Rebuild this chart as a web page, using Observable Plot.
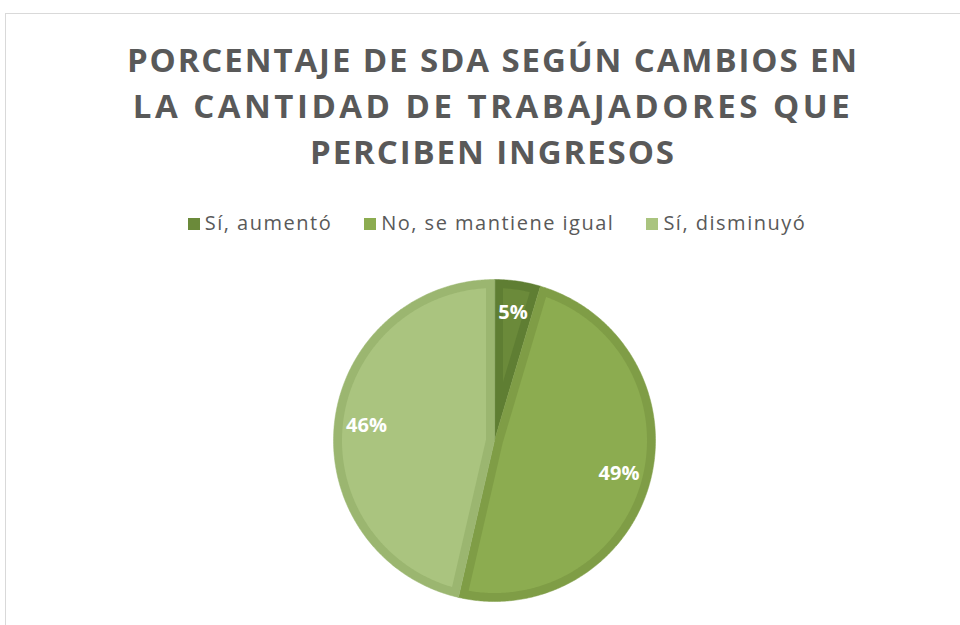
<!DOCTYPE html>
<html><head><meta charset="utf-8">
<script src="https://cdn.jsdelivr.net/npm/d3@7"></script>
<script src="https://cdn.jsdelivr.net/npm/@observablehq/plot@0.6"></script>
<style>
html,body{margin:0;padding:0;background:#fff;overflow:hidden;}
#page{position:relative;width:960px;height:625px;font-family:"Open Sans",sans-serif;color:#595959;}
#frame{position:absolute;left:5px;top:13px;width:1000px;height:700px;border:1px solid #d9d9d9;box-sizing:border-box;}
#title{position:absolute;left:0;top:37px;width:986px;text-align:center;font-size:33px;font-weight:700;letter-spacing:1.9px;line-height:46px;}
#title .l2{letter-spacing:3.5px;}
#legend{position:absolute;left:0;top:209px;width:994px;text-align:center;font-size:20px;letter-spacing:1.5px;white-space:nowrap;}
#legend span.item{display:inline-block;margin:0 16px;}
#legend span.sw{display:inline-block;width:12px;height:12px;margin-right:5px;vertical-align:0px;}
#chart{position:absolute;left:324px;top:270px;}
</style></head>
<body><div id="page"><div id="frame"></div>
<div id="title">PORCENTAJE DE SDA SEGÚN CAMBIOS EN<br><span class="l2">LA CANTIDAD DE TRABAJADORES QUE</span><br>PERCIBEN INGRESOS</div>
<div id="legend"></div>
<div id="chart"></div></div>
<script>
const categories = ["Sí, aumentó", "No, se mantiene igual", "Sí, disminuyó"];
const values = [4.6, 49.0, 46.4];
const labels = ["5%", "49%", "46%"];
const fillColors = ["#6b8a3a", "#8cac50", "#aac47f"];
const borderColors = ["#5f7e33", "#7f9d46", "#9bb670"];

const legend = document.getElementById("legend");
categories.forEach((c, i) => {
  const s = document.createElement("span"); s.className = "item";
  s.innerHTML = `<span class="sw" style="background:${fillColors[i]}"></span>${c}`;
  legend.appendChild(s);
});

const total = d3.sum(values);
const w = 8.5 / 161; // border width in radius units
const toXY = (a, r) => [r * Math.sin(a), r * Math.cos(a)];
let acc = 0;
const slices = values.map((v, i) => {
  const a0 = acc / total * 2 * Math.PI; acc += v;
  const a1 = acc / total * 2 * Math.PI;
  return {i, a0, a1, mid: (a0 + a1) / 2};
});
function arcPts(a0, a1, r) {
  const n = Math.max(4, Math.ceil((a1 - a0) / 0.01));
  return d3.range(n + 1).map(k => toXY(a0 + (a1 - a0) * k / n, r));
}
const outer = slices.map(s => [[0, 0], ...arcPts(s.a0, s.a1, 1)].map(([x, y]) => ({x, y})));
const inner = slices.map(s => {
  const th = s.a1 - s.a0;
  const R = 1 - w;
  const d = w / Math.sin(th / 2);
  const da = Math.asin(w / R);
  return [toXY(s.mid, d), ...arcPts(s.a0 + da, s.a1 - da, R)].map(([x, y]) => ({x, y}));
});
const labelData = slices.map(s => { const [x, y] = toXY(s.mid, 0.8); return {x, y, t: labels[s.i]}; });

const marks = [];
slices.forEach((s, i) => {
  marks.push(Plot.line(outer[i], {x: "x", y: "y", curve: "linear-closed", fill: borderColors[i], stroke: borderColors[i], strokeWidth: 0.5}));
});
slices.forEach((s, i) => {
  marks.push(Plot.line(inner[i], {x: "x", y: "y", curve: "linear-closed", fill: fillColors[i], stroke: "none"}));
});
marks.push(Plot.text(labelData, {x: "x", y: "y", text: "t", fill: "white", fontSize: 20, fontWeight: "bold"}));

const D = 340 / 2 / 161;
const plot = Plot.plot({
  width: 340, height: 340, margin: 0,
  x: {domain: [-D, D], axis: null},
  y: {domain: [-D, D], axis: null},
  style: {fontFamily: "Open Sans, sans-serif", background: "transparent"},
  marks
});
document.getElementById("chart").appendChild(plot);
</script></body></html>
